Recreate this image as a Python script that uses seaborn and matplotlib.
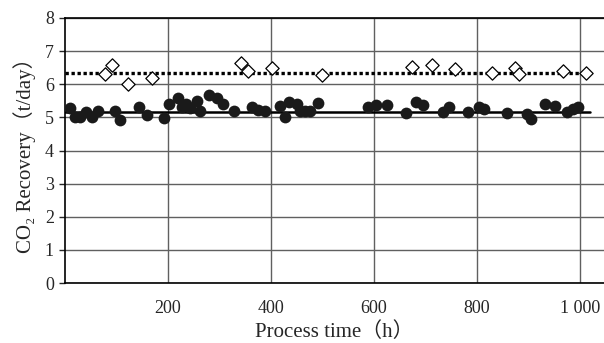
import numpy as np
import pandas as pd
import seaborn as sns
import matplotlib
matplotlib.use("Agg")
import matplotlib.pyplot as plt

#------------------------------------------------------------------------------
# DATA
circle_time = [10, 19, 29, 41, 52, 64, 97, 107, 144, 159, 192, 202, 220, 227,
               236, 243, 256, 262, 280, 295, 307, 328, 363, 375, 388, 417, 427,
               436, 450, 456, 466, 476, 491, 589, 604, 625, 662, 682, 695, 734,
               746, 782, 804, 814, 858, 897, 905, 932, 951, 975, 986, 996]
circle_co2 = [5.28, 5.0, 5.0, 5.15, 5.02, 5.18, 5.18, 4.92, 5.3, 5.06, 4.97,
              5.39, 5.6, 5.3, 5.39, 5.27, 5.48, 5.18, 5.68, 5.58, 5.39, 5.18,
              5.3, 5.21, 5.18, 5.33, 5.02, 5.45, 5.39, 5.2, 5.18, 5.18, 5.42,
              5.3, 5.36, 5.36, 5.12, 5.45, 5.36, 5.15, 5.3, 5.15, 5.3, 5.24,
              5.12, 5.09, 4.94, 5.39, 5.33, 5.15, 5.24, 5.3]

diamond_time = [78, 91, 122, 169, 342, 356, 403, 499, 675, 712, 757, 830,
                874, 882, 967, 1012]
diamond_co2 = [6.3, 6.58, 6.0, 6.18, 6.64, 6.4, 6.48, 6.27, 6.52, 6.58, 6.45,
               6.35, 6.48, 6.32, 6.4, 6.35]

line_span = [0, 1020]
circle_level = 5.15
diamond_level = 6.35

x_ticks = [200, 400, 600, 800, 1000]
x_ticklabels = ["200", "400", "600", "800", "1 000"]
y_ticks = [0, 1, 2, 3, 4, 5, 6, 7, 8]

#------------------------------------------------------------------------------
# PLOT
sns.set_style("white")
plt.rcParams["font.family"] = ["Liberation Serif", "Noto Sans CJK JP"]
plt.rcParams["font.size"] = 13

fig = plt.figure(figsize=(6.04, 3.43), dpi=100)
ax = fig.add_axes([65 / 604, 1 - 283 / 343, 1 - 65 / 604, 265 / 343])

circles = pd.DataFrame({"time": circle_time, "co2": circle_co2})
diamonds = pd.DataFrame({"time": diamond_time, "co2": diamond_co2})

sns.lineplot(x=line_span, y=[diamond_level] * 2, ax=ax, color="black",
             linewidth=2.4, linestyle=(0, (1, 0.8)), zorder=3)
sns.lineplot(x=line_span, y=[circle_level] * 2, ax=ax, color="black",
             linewidth=1.8, zorder=3)
sns.scatterplot(data=diamonds, x="time", y="co2", ax=ax, marker="D", s=46,
                facecolor="white", edgecolor="black", linewidth=0.9, zorder=4)
sns.scatterplot(data=circles, x="time", y="co2", ax=ax, marker="o", s=72,
                color="#1a1a1a", edgecolor="#1a1a1a", linewidth=0, zorder=5)

ax.set_xlim(0, 1047)
ax.set_ylim(0, 8)
ax.set_xticks(x_ticks)
ax.set_xticklabels(x_ticklabels)
ax.set_yticks(y_ticks)
ax.grid(True, color="#606060", linewidth=1.0)
ax.set_axisbelow(True)

for side in ["left", "top", "bottom"]:
    ax.spines[side].set_color("black")
    ax.spines[side].set_linewidth(1.2)
ax.spines["right"].set_visible(False)

ax.tick_params(axis="y", direction="out", length=4, width=1, pad=4, left=True)
ax.tick_params(axis="x", length=0, pad=12)

ax.set_xlabel("Process time（h）", fontsize=15, labelpad=4)
ax.set_ylabel("CO₂ Recovery（t/day）", fontsize=15, labelpad=6)

fig.savefig("out.png", dpi=100)
